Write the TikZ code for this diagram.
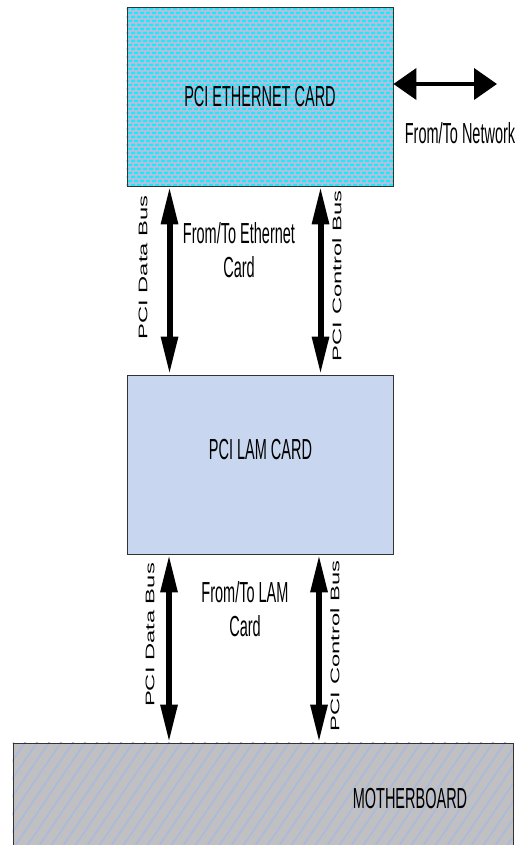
\documentclass[tikz,border=0pt]{standalone}
\usepackage{fontspec}
\setmainfont{Liberation Sans}
\newfontfamily\narrowfont{Liberation Sans}[FakeStretch=0.5]
\newfontfamily\widefont{Liberation Sans}[FakeStretch=1.9]
\usepackage{tikz}
\usetikzlibrary{arrows.meta,positioning,calc,backgrounds}

\definecolor{ethblue}{RGB}{182,190,222}
\definecolor{ethdot}{RGB}{20,236,250}
\definecolor{lamblue}{RGB}{200,214,240}
\definecolor{mbgray}{RGB}{192,192,194}
\definecolor{mbline}{RGB}{170,186,220}

\begin{document}
\begin{tikzpicture}[
    x=1pt, y=-1pt,
    card/.style={rectangle, draw=black!80, line width=0.8pt, inner sep=0pt, minimum width=266pt, minimum height=179pt},
    cardtext/.style={font=\narrowfont\fontsize{29}{34}\selectfont, align=center},
    buslabel/.style={font=\widefont\fontsize{12.5}{15}\selectfont, rotate=90, inner sep=0pt},
    busarrow/.style={{Triangle[length=38pt,width=16pt]}-{Triangle[length=38pt,width=16pt]}, line width=6pt},
    netarrow/.style={{Triangle[length=23pt,width=31pt]}-{Triangle[length=23pt,width=31pt]}, line width=4pt}
]
\clip (0,0) rectangle (523,845);

% Ethernet card
\node[card, cardtext] (eth) at (260,96.5) {PCI ETHERNET CARD};

% Network
\coordinate (net) at (497,84);
\draw[netarrow] (eth.east |- net) -- (net);
\node[cardtext] (nettext) at (460,133) {From/To Network};

% LAM card
\node[card, fill=lamblue] (lam) at (260,464.5) {};
\node[cardtext] (lamtext) at (260.5,450) {PCI LAM CARD};

% Motherboard
\node[card, minimum width=500pt, minimum height=130pt] (mb) at (263,808) {};
\node[cardtext] (mbtext) at (410,799) {MOTHERBOARD};

% Card textures
\begin{scope}[on background layer]
  \begin{scope}
    \clip (eth.north west) rectangle (eth.south east);
    \fill[ethblue] (eth.north west) rectangle (eth.south east);
    \fill[ethdot] \foreach \r in {0,...,45} { \foreach \c in {0,...,45} {
      ({125+6*\c+3*mod(\r,2)}, {8+4*\r}) rectangle ++(4,2) } };
  \end{scope}
  \begin{scope}
    \clip (mb.north west) rectangle (mb.south east);
    \fill[mbgray] (mb.north west) rectangle (mb.south east);
    \foreach \k in {0,...,60}
      \draw[mbline, line width=1.6pt] ({-80+12*\k}, 880) -- ++(100,-148);
  \end{scope}
\end{scope}

% Buses between Ethernet and LAM card
\draw[busarrow] (eth.south -| 169.5,0) -- (lam.north -| 169.5,0);
\draw[busarrow] (eth.south -| 320.5,0) -- (lam.north -| 320.5,0);
\node[buslabel] (ethdata) at (143,267.5) {PCI Data Bus};
\node[buslabel] (ethctrl) at (337,276) {PCI Control Bus};
\node[cardtext] (ethtext) at (239,250) {From/To Ethernet\\Card};

% Buses between LAM card and motherboard
\draw[busarrow] (lam.south -| 169,0) -- (mb.north -| 169,0);
\draw[busarrow] (lam.south -| 319,0) -- (mb.north -| 319,0);
\node[buslabel] (lamdata) at (150,635) {PCI Data Bus};
\node[buslabel] (lamctrl) at (335,646) {PCI Control Bus};
\node[cardtext] (lamfrom) at (245,609.5) {From/To LAM\\Card};

\end{tikzpicture}
\end{document}
